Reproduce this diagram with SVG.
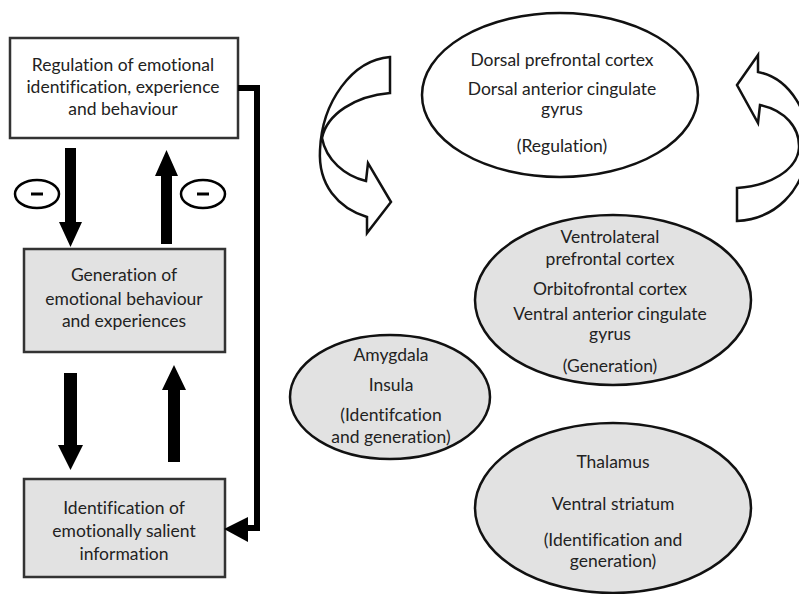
<svg xmlns="http://www.w3.org/2000/svg" width="799" height="594" viewBox="0 0 799 594">
<style>
text{font-family:"Lato","Liberation Sans",sans-serif;font-size:17.5px;fill:#222;text-anchor:middle;font-variant-ligatures:none}
.box{stroke:#333;stroke-width:2.5}
.white{fill:#fff}
.gray{fill:#e2e2e2}
.ell{stroke:#111;stroke-width:2.5}
.blk{fill:#000}
.curve{fill:#fff;stroke:#111;stroke-width:2.5;stroke-linejoin:miter}
</style>
<rect width="799" height="594" fill="#fff"/>
<g id="regulation">
<rect class="box white" x="10" y="38" width="228" height="100"/>
<text x="123" y="71">Regulation of emotional</text>
<text x="123" y="93">identification, experience</text>
<text x="123" y="115">and behaviour</text>
</g>
<g id="generation">
<rect class="box gray" x="24" y="249" width="201" height="103"/>
<text x="124" y="281">Generation of</text>
<text x="124" y="305">emotional behaviour</text>
<text x="124" y="327">and experiences</text>
</g>
<g id="identification">
<rect class="box gray" x="24" y="479" width="201" height="98"/>
<text x="124" y="514">Identification of</text>
<text x="124" y="537">emotionally salient</text>
<text x="124" y="560">information</text>
</g>
<g id="minus-left">
<ellipse cx="37" cy="194" rx="22" ry="14" fill="#fff" stroke="#000" stroke-width="2.5"/>
<line x1="31" y1="194" x2="43" y2="194" stroke="#000" stroke-width="3"/>
</g>
<g id="minus-right">
<ellipse cx="203" cy="194" rx="22" ry="14" fill="#fff" stroke="#000" stroke-width="2.5"/>
<line x1="197" y1="194" x2="209" y2="194" stroke="#000" stroke-width="3"/>
</g>
<g id="dorsal">
<ellipse class="ell white" cx="560" cy="95" rx="138" ry="82"/>
<text x="562" y="66">Dorsal prefrontal cortex</text>
<text x="562" y="95">Dorsal anterior cingulate</text>
<text x="562" y="115">gyrus</text>
<text x="562" y="152">(Regulation)</text>
</g>
<g id="ventrolateral">
<ellipse class="ell gray" cx="613" cy="300" rx="138" ry="85"/>
<text x="610" y="243">Ventrolateral</text>
<text x="610" y="265">prefrontal cortex</text>
<text x="610" y="295">Orbitofrontal cortex</text>
<text x="610" y="320">Ventral anterior cingulate</text>
<text x="610" y="340">gyrus</text>
<text x="610" y="372">(Generation)</text>
</g>
<g id="amygdala">
<ellipse class="ell gray" cx="390" cy="397" rx="100" ry="62"/>
<text x="391" y="361">Amygdala</text>
<text x="391" y="391">Insula</text>
<text x="391" y="421">(Identifcation</text>
<text x="391" y="443">and generation)</text>
</g>
<g id="thalamus">
<ellipse class="ell gray" cx="613" cy="508" rx="138" ry="85"/>
<text x="613" y="468">Thalamus</text>
<text x="613" y="510">Ventral striatum</text>
<text x="613" y="546">(Identification and</text>
<text x="613" y="567">generation)</text>
</g>
<g id="connectors">
<polygon class="blk" points="65,148 76,148 76,222 82,222 70.5,247 59,222 65,222"/>
<polygon class="blk" points="161,244 172,244 172,176 178,176 166.5,150 155,176 161,176"/>
<polygon class="blk" points="64,373 77,373 77,445 83,445 70.5,470 58,445 64,445"/>
<polygon class="blk" points="168,462 180,462 180,390 186,390 174,365 162,390 168,390"/>
<polyline points="238,88 257,88 257,528 246,528" fill="none" stroke="#000" stroke-width="6"/>
<polygon class="blk" points="224,529 248,517 248,542"/>
<path class="curve" d="M390,57 L390,93 C355,96 327,114 322,138 C326,160 345,176 366,181 L368,163 L391,202 L367,233 L367,217 C338,208 318,185 320,150 C322,102 352,60 390,57 Z"/>
<path class="curve" d="M737,85 L758,55 L758,72 C790,78 812,115 808,150 C803,192 775,219 737,221 L737,188 C770,186 797,170 799,148 C800,128 785,110 760,105 L758,123 Z"/>
</g>
</svg>
